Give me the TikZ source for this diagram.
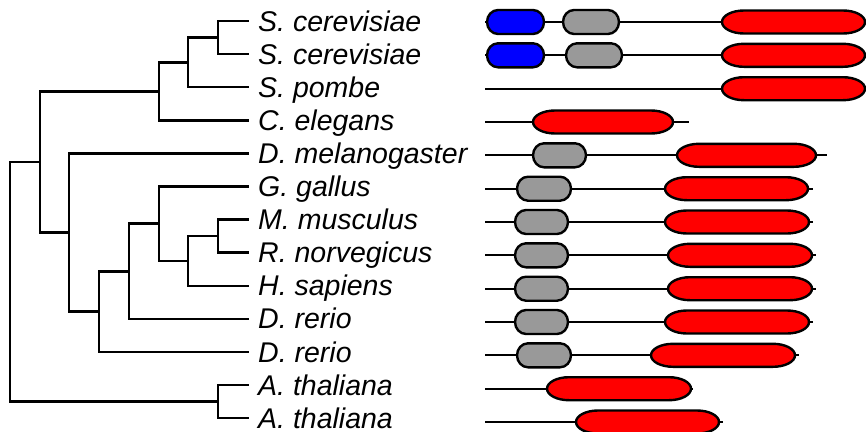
\documentclass[tikz,border=0pt]{standalone}
\usepackage{fontspec}
\setmainfont{Liberation Sans}
\usepackage{xcolor}
\usepackage{tikz}
\definecolor{domgray}{RGB}{153,153,153}
\definecolor{domblue}{RGB}{0,0,255}
\definecolor{domred}{RGB}{255,0,0}
\tikzset{
  branch/.style={line width=2.5pt},
  spname/.style={anchor=west,inner xsep=9pt,inner ysep=0pt,text height=22pt,text depth=2pt,font=\fontsize{28.5}{30}\selectfont\itshape},
  backbone/.style={line width=2.2pt},
  dom/.style={line width=2.4pt}
}
% domain capsule: x1, x2, y, colour, x radius, y radius
\newcommand\protdom[6]{\draw[dom,fill=#4] ({#1+#5},{#3-#6}) -- ({#2-#5},{#3-#6}) arc[start angle=90,end angle=-90,x radius=#5pt,y radius=#6pt] -- ({#1+#5},{#3+#6}) arc[start angle=270,end angle=90,x radius=#5pt,y radius=#6pt] -- cycle;}

\begin{document}
\begin{tikzpicture}[x=1pt,y=-1pt,line join=miter]
  \useasboundingbox (0,0) rectangle (866,431);
  % species labels
  \node[spname] (scer1) at (249,21) {S. cerevisiae};
  \node[spname] (scer2) at (249,54.1) {S. cerevisiae};
  \node[spname] (spom) at (249,87.2) {S. pombe};
  \node[spname] (cele) at (249,120.3) {C. elegans};
  \node[spname] (dmel) at (249,153.4) {D. melanogaster};
  \node[spname] (ggal) at (249,186.5) {G. gallus};
  \node[spname] (mmus) at (249,219.6) {M. musculus};
  \node[spname] (rnor) at (249,252.7) {R. norvegicus};
  \node[spname] (hsap) at (249,285.8) {H. sapiens};
  \node[spname] (drer1) at (249,318.9) {D. rerio};
  \node[spname] (drer2) at (249,352) {D. rerio};
  \node[spname] (atha1) at (249,385.1) {A. thaliana};
  \node[spname] (atha2) at (249,418.2) {A. thaliana};
  % tree
  \coordinate (n1) at (218,37.55); \coordinate (n2) at (188,62.4); \coordinate (n3) at (159,91.3);
  \coordinate (n10) at (218,236.15); \coordinate (n9) at (188,261); \coordinate (n8) at (159,223.7);
  \coordinate (n7) at (129,271.3); \coordinate (n6) at (99,311.6); \coordinate (n5) at (69,232.5);
  \coordinate (n4) at (40,161.9); \coordinate (n11) at (218,401.6); \coordinate (root) at (10,281.8);
  \draw[branch] (n1) |- (scer1.west); \draw[branch] (n1) |- (scer2.west);
  \draw[branch] (n2) |- (n1); \draw[branch] (n2) |- (spom.west);
  \draw[branch] (n3) |- (n2); \draw[branch] (n3) |- (cele.west);
  \draw[branch] (n10) |- (mmus.west); \draw[branch] (n10) |- (rnor.west);
  \draw[branch] (n9) |- (n10); \draw[branch] (n9) |- (hsap.west);
  \draw[branch] (n8) |- (ggal.west); \draw[branch] (n8) |- (n9);
  \draw[branch] (n7) |- (n8); \draw[branch] (n7) |- (drer1.west);
  \draw[branch] (n6) |- (n7); \draw[branch] (n6) |- (drer2.west);
  \draw[branch] (n5) |- (dmel.west); \draw[branch] (n5) |- (n6);
  \draw[branch] (n4) |- (n3); \draw[branch] (n4) |- (n5);
  \draw[branch] (n11) |- (atha1.west); \draw[branch] (n11) |- (atha2.west);
  \draw[branch] (root) |- (n4); \draw[branch] (root) |- (n11);
  % domain architectures
  \draw[backbone] (485,22) -- (865,22); \protdom{487}{544}{22}{domblue}{11}{12} \protdom{563}{619}{22}{domgray}{11}{12} \protdom{722}{865}{22}{domred}{22}{11.5}
  \draw[backbone] (485,55.3) -- (865,55.3); \protdom{487}{544}{55.3}{domblue}{11}{12} \protdom{566}{622}{55.3}{domgray}{11}{12} \protdom{722}{865}{55.3}{domred}{22}{11.5}
  \draw[backbone] (485,88.7) -- (865,88.7); \protdom{722}{865}{88.7}{domred}{22}{11.5}
  \draw[backbone] (485,122) -- (689,122); \protdom{533}{673}{122}{domred}{22}{11.5}
  \draw[backbone] (485,155.3) -- (827,155.3); \protdom{533}{586}{155.3}{domgray}{11}{12} \protdom{677}{816}{155.3}{domred}{22}{11.5}
  \draw[backbone] (485,188.7) -- (813,188.7); \protdom{517}{571}{188.7}{domgray}{11}{12} \protdom{665}{808}{188.7}{domred}{22}{11.5}
  \draw[backbone] (485,222) -- (813,222); \protdom{515}{568}{222}{domgray}{11}{12} \protdom{665}{809}{222}{domred}{22}{11.5}
  \draw[backbone] (485,255.3) -- (816,255.3); \protdom{515}{568}{255.3}{domgray}{11}{12} \protdom{668}{812}{255.3}{domred}{22}{11.5}
  \draw[backbone] (485,288.7) -- (816,288.7); \protdom{515}{568}{288.7}{domgray}{11}{12} \protdom{668}{812}{288.7}{domred}{22}{11.5}
  \draw[backbone] (485,322) -- (813,322); \protdom{515}{568}{322}{domgray}{11}{12} \protdom{665}{809}{322}{domred}{22}{11.5}
  \draw[backbone] (485,355.3) -- (799,355.3); \protdom{517}{571}{355.3}{domgray}{11}{12} \protdom{651}{795}{355.3}{domred}{22}{11.5}
  \draw[backbone] (485,388.7) -- (693,388.7); \protdom{547}{691}{388.7}{domred}{22}{11.5}
  \draw[backbone] (485,422) -- (723,422); \protdom{576}{719}{422}{domred}{22}{11.5}
\end{tikzpicture}
\end{document}
